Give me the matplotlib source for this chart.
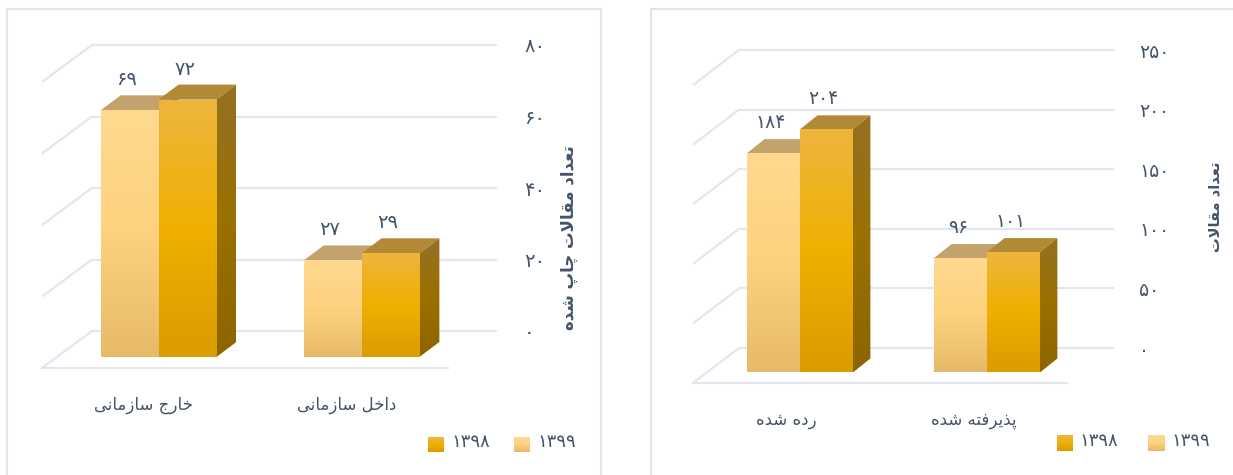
import unicodedata
import numpy as np
import matplotlib
matplotlib.use("Agg")
import matplotlib.pyplot as plt
from matplotlib.colors import LinearSegmentedColormap
from matplotlib.lines import Line2D
from matplotlib.patches import Polygon

# ---------- data ----------
left_categories = ["خارج سازمانی", "داخل سازمانی"]
left_1399 = [69, 27]
left_1398 = [72, 29]
left_ticks = [0, 20, 40, 60, 80]
left_ylabel = "تعداد مقالات چاپ شده"

right_categories = ["رده شده", "پذیرفته شده"]
right_1399 = [184, 96]
right_1398 = [204, 101]
right_ticks = [0, 50, 100, 150, 200, 250]
right_ylabel = "تعداد مقالات"

series_names = ["۱۳۹۹", "۱۳۹۸"]

# ---------- style ----------
W, H = 1233, 475
TEXT = "#44546A"
GRID = "#E3E6EE"
FONT = "DejaVu Sans"
plt.rcParams["font.family"] = FONT

cm_light = LinearSegmentedColormap.from_list(
    "l", [(0, "#FFD98F"), (0.5, "#FDD27F"), (1, "#E6BA68")])
cm_dark = LinearSegmentedColormap.from_list(
    "d", [(0, "#EDB53F"), (0.5, "#EFB000"), (1, "#DA9C00")])
cm_side = LinearSegmentedColormap.from_list(
    "s", [(0, "#957023"), (0.5, "#9A7000"), (1, "#8D6500")])
TOP_LIGHT, TOP_DARK = "#C3A26B", "#B28A35"


# ---------- Persian shaping (matplotlib draws glyphs left to right, unshaped) ----------
FORMS, LAMALEF = {}, {}
for code in list(range(0xFB50, 0xFE00)) + list(range(0xFE70, 0xFF00)):
    parts = unicodedata.decomposition(chr(code)).split()
    if len(parts) == 2 and parts[0] in ("<isolated>", "<final>", "<initial>", "<medial>"):
        FORMS.setdefault(chr(int(parts[1], 16)), {})[parts[0]] = chr(code)
    if len(parts) == 3 and parts[1:] == ["0644", "0627"]:
        LAMALEF[parts[0]] = chr(code)
RIGHT_ONLY = set("اآأإدذرزژوؤة")


def shape(text):
    text = text.replace("لا", "\uE000")
    chars = list(text)
    joins_next = lambda c: c in FORMS and c not in RIGHT_ONLY
    joins_prev = lambda c: c in FORMS or c == "\uE000"
    out = []
    for i, c in enumerate(chars):
        before = i > 0 and (chars[i - 1] in FORMS and chars[i - 1] not in RIGHT_ONLY)
        after = i < len(chars) - 1 and joins_prev(chars[i + 1])
        if c == "\uE000":
            out.append(LAMALEF["<final>" if before else "<isolated>"])
        elif c in FORMS:
            can_next = joins_next(c) and after
            key = ("<medial>" if can_next else "<final>") if before else ("<initial>" if can_next else "<isolated>")
            out.append(FORMS[c].get(key, c))
        else:
            out.append(c)
    return "".join(reversed(out))


def fa(n):
    return str(n).translate(str.maketrans("0123456789", "۰۱۲۳۴۵۶۷۸۹"))


fig = plt.figure(figsize=(W / 100, H / 100), dpi=100, facecolor="white")


def px_axes(l, t, r, b, **kw):
    return fig.add_axes([l / W, 1 - b / H, (r - l) / W, (b - t) / H], **kw)


def face(ax, x0, x1, v0, v1, poly, cmap):
    p = Polygon(poly, closed=True, fc="none", ec="none", transform=ax.transData, zorder=ax._z)
    ax.add_patch(p)
    g = np.linspace(0, 1, 128).reshape(-1, 1)
    im = ax.imshow(g, extent=[x0, x1, v0, v1], origin="upper", aspect="auto",
                   cmap=cmap, vmin=0, vmax=1, zorder=ax._z, interpolation="bilinear")
    im.set_clip_path(p)
    ax._z += 0.01


def panel(cats, s1399, s1398, ticks, ylabel, wall, floor, bar_px, depth, shift,
          width, tick_fs, label_fs, ylab, ylab_fs, ylab_pad, legend_px, legend_y):
    gl, gt, gr, gb = wall               # back wall in px
    fl, fr, fb = floor                  # floor front edge in px
    y0 = bar_px                         # px of value 0 on front plane
    top = ticks[-1]
    unit = (gb - gt) / top              # px per unit
    dx_px, dy_px = depth
    ddx, ddy = gl - fl, fb - gb

    # back wall: gridlines + value labels
    back = px_axes(gl, gt, gr, gb)
    back.set_ylim(0, top)
    back.set_xlim(0, 1)
    back.patch.set_alpha(0)
    for s in back.spines.values():
        s.set_visible(False)
    back.set_xticks([])
    back.yaxis.tick_right()
    back.set_yticks(ticks)
    back.set_yticklabels([fa(t) for t in ticks], fontsize=tick_fs, color=TEXT)
    back.tick_params(axis="y", length=0, pad=(ylab * 72 / 100))
    back.grid(axis="y", color=GRID, lw=1.6, clip_on=False)
    back.set_axisbelow(True)
    for t in ticks:
        back.plot([0, -ddx / (gr - gl)], [t, t - ddy / unit], color=GRID, lw=1.6,
                  transform=back.get_yaxis_transform(), clip_on=False,
                  solid_capstyle="butt")
    back.set_ylim(0, top)
    back.yaxis.set_label_position("right")
    back.set_ylabel(shape(ylabel), rotation=90, fontsize=ylab_fs, color=TEXT,
                    fontweight="bold", va="center", ha="center")
    back.yaxis.set_label_coords((ylab_pad - gl) / (gr - gl), legend_y[2])

    # front plane: bars, floor edge, category labels
    ymin = -(fb - y0) / unit
    ymax = (y0 - gt) / unit
    ax = px_axes(fl, gt, fr, fb)
    ax.patch.set_alpha(0)
    ax._z = 3
    ax.set_xlim(-0.5, 1.5)
    ax.set_ylim(ymin, ymax)
    for k, s in ax.spines.items():
        s.set_visible(k == "bottom")
    ax.spines["bottom"].set_color(GRID)
    ax.spines["bottom"].set_linewidth(1.6)
    ax.set_yticks([])
    ax.set_xticks(range(len(cats)))
    ax.set_xticklabels([shape(c) for c in cats], fontsize=label_fs, color=TEXT)
    ax.tick_params(axis="x", length=0, pad=20)

    ppu_x = (fr - fl) / 2
    dx, dy = dx_px / ppu_x, dy_px / unit
    for i in range(len(cats)):
        c = i + shift
        for vals, cmap, topc, x0 in ((s1399, cm_light, TOP_LIGHT, c - width),
                                     (s1398, cm_dark, TOP_DARK, c)):
            v = vals[i]
            x1 = x0 + width
            ax.add_patch(Polygon([(x0, v), (x1, v), (x1 + dx, v + dy), (x0 + dx, v + dy)],
                                 fc=topc, ec="none", zorder=ax._z))
            ax._z += 0.01
            face(ax, x1, x1 + dx, 0, v + dy,
                 [(x1, 0), (x1 + dx, dy), (x1 + dx, v + dy), (x1, v)], cm_side)
            bars = ax.bar(x0 + width / 2, v, width=width, color="none", edgecolor="none",
                          zorder=ax._z)
            r = bars[0]
            g = np.linspace(0, 1, 128).reshape(-1, 1)
            im = ax.imshow(g, extent=[x0, x1, 0, v], origin="upper", aspect="auto",
                           cmap=cmap, vmin=0, vmax=1, zorder=ax._z, interpolation="bilinear")
            im.set_clip_path(r)
            ax._z += 0.01
            ax.annotate(fa(v), (x0 + width / 2, v), xytext=(-2, 22), textcoords="offset points",
                        ha="center", va="center", fontsize=tick_fs, color=TEXT,
                        annotation_clip=False, zorder=30)
    ax.set_xlim(-0.5, 1.5)
    ax.set_ylim(ymin, ymax)

    # legend
    (dl, dr, ll, lr, ty, by) = legend_px
    for (sl, sr), name, cmap, tx in (((dl, dr), series_names[1], cm_dark, dr + 7),
                                     ((ll, lr), series_names[0], cm_light, lr + 7)):
        sw = px_axes(sl, ty, sr, by)
        sw.axis("off")
        sw.imshow(np.linspace(0, 1, 32).reshape(-1, 1), aspect="auto", cmap=cmap, vmin=0, vmax=1)
        fig.text(tx / W, 1 - legend_y[0] / H, name, fontsize=legend_y[1], color=TEXT,
                 ha="left", va="center")


panel(left_categories, left_1399, left_1398, left_ticks, left_ylabel,
      wall=(92, 45, 496, 331), floor=(42, 448, 368), bar_px=357, depth=(20, 15),
      shift=0.074, width=0.285, tick_fs=14, label_fs=12, ylab=28, ylab_fs=12,
      ylab_pad=569, legend_px=(428, 444, 514, 530, 437, 452), legend_y=(442, 13, 0.325))

panel(right_categories, right_1399, right_1398, right_ticks, right_ylabel,
      wall=(739, 50, 1113, 348), floor=(693, 1067, 383), bar_px=372.5, depth=(17.5, 14),
      shift=0.072, width=0.283, tick_fs=13.5, label_fs=12, ylab=26, ylab_fs=10.5,
      ylab_pad=1215, legend_px=(1057, 1073, 1148, 1165, 435, 451), legend_y=(441, 13, 0.475))

# panel frames
def frame(pts):
    xs, ys = zip(*pts)
    fig.add_artist(Line2D([x / W for x in xs], [1 - y / H for y in ys], color="#E1E5EC", lw=1.5))

frame([(7, 475), (7, 9), (601, 9), (601, 475)])
frame([(651, 475), (651, 9), (1233, 9)])

fig.savefig("out.png", dpi=100)
